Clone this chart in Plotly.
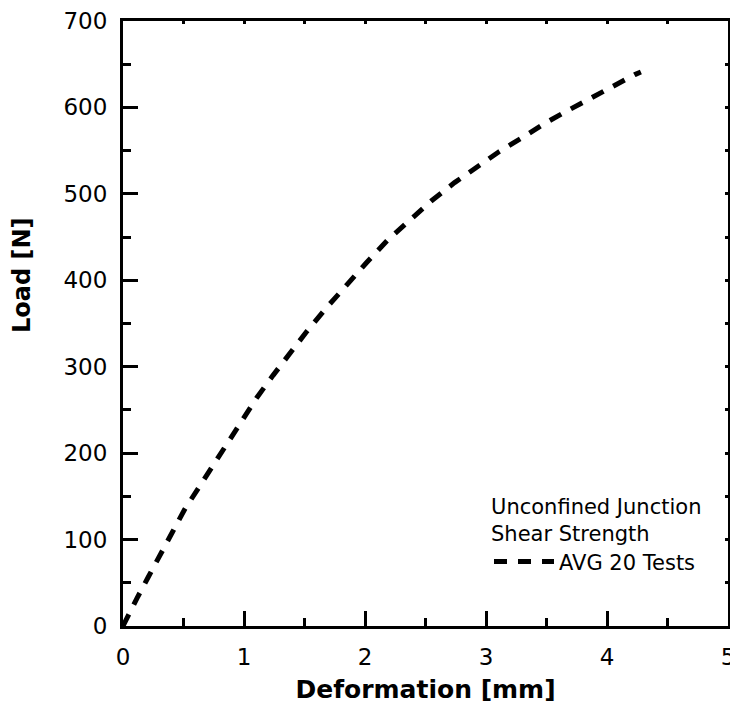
import plotly.graph_objects as go

# Data
deformation_mm = [0.0, 0.03, 0.115, 0.21, 0.31, 0.41, 0.51, 0.63, 0.74, 0.86, 0.98,
                  1.11, 1.24, 1.38, 1.52, 1.68, 1.83, 2.01, 2.19, 2.36, 2.55, 2.74,
                  2.93, 3.11, 3.30, 3.49, 3.67, 3.85, 4.04, 4.23, 4.28]
load_n = [0, 9, 32, 57, 82, 109, 135, 161, 186, 212, 238,
          265, 290, 316, 341, 368, 392, 420, 447, 468, 492, 513,
          531, 549, 565, 582, 596, 610, 624, 638, 641]

series_name = "AVG 20 Tests"
legend_title = "Unconfined Junction<br>Shear Strength"
x_title = "Deformation [mm]"
y_title = "Load [N]"
x_range = [0, 5]
y_range = [0, 700]

FONT = "DejaVu Sans"

fig = go.Figure()
fig.add_trace(go.Scatter(
    x=deformation_mm, y=load_n, mode="lines", name=series_name,
    line=dict(color="black", width=5, dash="13px,11px"),
))

axis_common = dict(
    showgrid=False, zeroline=False, showline=True, linecolor="black",
    linewidth=3, mirror=True, ticks="inside", tickcolor="black",
    tickwidth=3, ticklen=15, automargin=False,
    tickfont=dict(family=FONT, size=23, color="black"),
)

fig.update_layout(
    width=730, height=704,
    paper_bgcolor="white", plot_bgcolor="white",
    margin=dict(l=115, r=10, t=13, b=86),
    font=dict(family=FONT, color="black"),
    showlegend=True,
    legend=dict(
        x=0.605, y=0.23, xanchor="left", yanchor="top",
        bgcolor="rgba(0,0,0,0)", borderwidth=0,
        title=dict(text=legend_title, font=dict(family=FONT, size=21, color="black")),
        font=dict(family=FONT, size=21, color="black"),
        itemwidth=60,
        tracegroupgap=0,
    ),
    xaxis=dict(
        range=x_range, dtick=1, tick0=0,
        minor=dict(ticks="inside", dtick=0.5, ticklen=8, tickwidth=3, tickcolor="black"),
        title=dict(text="<b>" + x_title + "</b>", font=dict(family=FONT, size=25, color="black"), standoff=12),
        ticklabelstandoff=8,
        **axis_common,
    ),
    yaxis=dict(
        range=y_range, dtick=100, tick0=0,
        minor=dict(ticks="inside", dtick=50, ticklen=8, tickwidth=3, tickcolor="black"),
        ticklabelstandoff=8,
        **axis_common,
    ),
    xaxis2=dict(
        range=x_range, overlaying="x", side="top", showgrid=False, zeroline=False,
        showline=False, ticks="inside", dtick=0.5, tick0=0, ticklen=3, tickwidth=3,
        tickcolor="black", showticklabels=False, automargin=False,
    ),
    yaxis2=dict(
        range=y_range, overlaying="y", side="right", showgrid=False, zeroline=False,
        showline=False, ticks="inside", dtick=50, tick0=0, ticklen=3, tickwidth=3,
        tickcolor="black", showticklabels=False, automargin=False,
    ),
)

# Y-axis title (placed slightly above the axis centre, as in the reference)
fig.add_annotation(
    text="<b>" + y_title + "</b>", textangle=-90,
    xref="paper", yref="paper", x=-0.167, y=0.58,
    xanchor="center", yanchor="middle", showarrow=False,
    font=dict(family=FONT, size=24, color="black"),
)

fig.add_trace(go.Scatter(x=[None], y=[None], xaxis="x2", yaxis="y2",
                         showlegend=False, hoverinfo="skip"))

fig.write_html("out.html")
